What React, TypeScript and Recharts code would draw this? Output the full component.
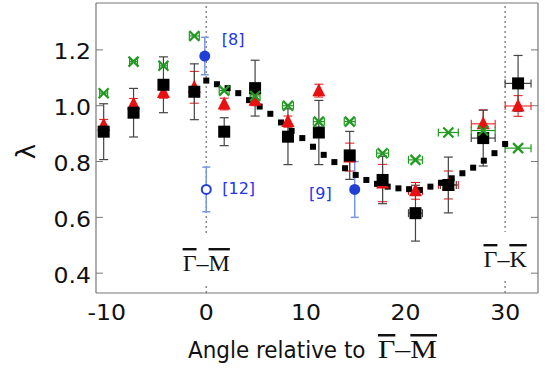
import React from 'react'
import { ScatterChart, Scatter, XAxis, YAxis, ErrorBar, ReferenceLine } from 'recharts'

// angles (deg) of the measured cuts, shared by the three symbol sets
const angles = [-10.3, -7.3, -4.3, -1.2, 1.8, 4.9, 8.2, 11.3, 14.4, 17.7, 21.0, 24.3, 27.8, 31.3]

const squareLambda = [0.907, 0.975, 1.075, 1.05, 0.907, 1.063, 0.889, 0.904, 0.822, 0.734, 0.615, 0.716, 0.884, 1.08]
const squareErr = [0.1, 0.087, 0.1, 0.1, 0.05, 0.1, 0.1, 0.115, 0.086, 0.085, 0.1, 0.1, 0.1, 0.1]
const squareAngleErr = [0, 0, 0, 0, 0, 0, 0, 0, 0, 0, 0.7, 0.8, 1.2, 1.3]

const triangleLambda = [0.931, 1.006, 1.047, 1.066, 1.006, 1.02, 0.943, 1.054, 0.816, 0.723, 0.695, 0.716, 0.935, 0.999]
const triangleErr = [0.02, 0.02, 0.02, 0.057, 0.021, 0.02, 0.02, 0.023, 0.05, 0.067, 0.03, 0.05, 0.05, 0.037]
const triangleAngleErr = [0, 0, 0, 0, 0, 0, 0, 0, 0, 0, 0.7, 1.0, 1.2, 1.3]

const crossLambda = [1.045, 1.158, 1.143, 1.25, 1.054, 1.035, 1.0, 0.943, 0.943, 0.83, 0.806, 0.904, 0.911, 0.848]
const crossAngleErr = [0.4, 0.4, 0.4, 0.5, 0.5, 0.5, 0.55, 0.55, 0.55, 0.6, 0.7, 1.0, 1.2, 1.3]

// calculated curve (small squares)
const calcAngle = [0, 1.07, 2.14, 3.21, 4.29, 5.36, 6.43, 7.5, 8.57, 9.64, 10.71, 11.79, 12.86, 13.93, 15.0,
  16.07, 17.14, 18.21, 19.29, 20.36, 21.43, 22.5, 23.57, 24.64, 25.71, 26.79, 27.86, 28.93, 30.0]
const calcLambda = [1.09, 1.077, 1.063, 1.045, 1.02, 0.997, 0.971, 0.94, 0.91, 0.884, 0.853, 0.824, 0.798, 0.776, 0.752,
  0.734, 0.72, 0.71, 0.704, 0.701, 0.698, 0.71, 0.724, 0.74, 0.758, 0.778, 0.803, 0.83, 0.863]

// literature values
const refNames = ['[8]', '[12]', '[9]']
const refAngle = [-0.15, 0, 14.9]
const refLambda = [1.178, 0.7, 0.7]
const refErr = [0.067, 0.08, 0.1]

const xTicks = [-10, 0, 10, 20, 30]
const yTicks = [0.4, 0.6, 0.8, 1.0, 1.2]

const X_DOMAIN = [-11.07, 33.3]
const Y_DOMAIN = [0.329, 1.368]

const squares = angles.map((x, i) => ({ x, y: squareLambda[i], ey: squareErr[i], ex: squareAngleErr[i] }))
const triangles = angles.map((x, i) => ({ x, y: triangleLambda[i], ey: triangleErr[i], ex: triangleAngleErr[i] }))
const crosses = angles.map((x, i) => ({ x, y: crossLambda[i], ex: crossAngleErr[i] }))
const calc = calcAngle.map((x, i) => ({ x, y: calcLambda[i] }))
const refs = refNames.map((name, i) => [{ x: refAngle[i], y: refLambda[i], ey: refErr[i], name }])

const SANS = '"DejaVu Sans", Verdana, sans-serif'
const SERIF = '"Liberation Serif", "Times New Roman", serif'
const FRAME = '#777'
const BLUE = '#1f3fd6'

const NoTick = () => <g />

const XTick = ({ x, y, payload }: any) => (
  <g transform={`translate(${x},${y}) scale(1.15,1)`}>
    <text x={0} y={27} textAnchor="middle" fontFamily={SANS} fontSize={20.5} fill="#111">
      {String(payload.value)}
    </text>
  </g>
)

const YTick = ({ x, y, payload }: any) => (
  <g transform={`translate(${x - 5},${y}) scale(1.15,1)`}>
    <text x={0} y={9.5} textAnchor="end" fontFamily={SANS} fontSize={20.5} fill="#111">
      {Number(payload.value).toFixed(1)}
    </text>
  </g>
)

const BigSquare = (p: any) => <rect x={p.cx - 6} y={p.cy - 6} width={12} height={12} fill="#000" />
const SmallSquare = (p: any) => <rect x={p.cx - 3} y={p.cy - 3} width={6} height={6} fill="#000" />
const Triangle = (p: any) => (
  <polygon points={`${p.cx},${p.cy - 7.5} ${p.cx - 6.5},${p.cy + 5.5} ${p.cx + 6.5},${p.cy + 5.5}`} fill="#e81010" />
)
const Cross = (p: any) => (
  <g stroke="#229a22" strokeWidth={2.2}>
    <line x1={p.cx - 5} y1={p.cy - 5} x2={p.cx + 5} y2={p.cy + 5} />
    <line x1={p.cx - 5} y1={p.cy + 5} x2={p.cx + 5} y2={p.cy - 5} />
  </g>
)

const refShape = (open: boolean, dx: number, dy: number, anchor: string) => (p: any) => (
  <g>
    {open
      ? <circle cx={p.cx} cy={p.cy} r={4.5} fill="#fff" stroke={BLUE} strokeWidth={2} />
      : <circle cx={p.cx} cy={p.cy} r={5.5} fill={BLUE} />}
    <text x={p.cx + dx} y={p.cy + dy} textAnchor={anchor} fontFamily={SANS} fontSize={16} fill="#2236e8">
      {p.payload.name}
    </text>
  </g>
)

const Sym = ({ a, b }: { a: string; b: string }) => (
  <>
    <tspan style={{ textDecoration: 'overline' }}>{a}</tspan>–<tspan style={{ textDecoration: 'overline' }}>{b}</tspan>
  </>
)

// direction label sitting in a gap of the dotted line
const gapLabel = (b: string, base: number, gapTop: number, gapBottom: number) => (props: any) => {
  const vb = props.viewBox || {}
  const cx = vb.x
  const top = vb.y
  return (
    <g>
      <rect x={cx - 4} y={top + gapTop} width={8} height={gapBottom - gapTop} fill="#fff" />
      <text x={cx} y={top + base} textAnchor="middle" fontFamily={SERIF} fontSize={24} fill="#111">
        <Sym a="Γ" b={b} />
      </text>
    </g>
  )
}

const XTitle = (props: any) => {
  const vb = props.viewBox
  return (
    <g>
      <text transform={`translate(${vb.x + 92},${vb.y + 65}) scale(1,1.1)`} fontFamily={SANS} fontSize={21.5}
        fill="#111">Angle relative to</text>
      <text x={vb.x + 282} y={vb.y + 65} fontFamily={SERIF} fontSize={25} fill="#111"
        textLength={59} lengthAdjust="spacingAndGlyphs">
        <Sym a="Γ" b="M" />
      </text>
    </g>
  )
}

const YTitle = (props: any) => {
  const vb = props.viewBox
  return (
    <text transform={`translate(${vb.x + 25.5},${vb.y + 148.5}) rotate(-90)`} textAnchor="middle" dy="0.36em"
      fontFamily={SANS} fontSize={26} fill="#111">λ</text>
  )
}

export default function App() {
  return (
    <div style={{ position: 'absolute', left: 0, top: 0, width: 545, height: 370, background: '#fff' }}>
      <ScatterChart width={545} height={370} margin={{ top: 3, right: 7, bottom: 0, left: 0 }}>
        <XAxis xAxisId="a" type="number" dataKey="x" domain={X_DOMAIN} allowDataOverflow ticks={xTicks}
          interval={0} height={77} tickLine={false} tickSize={0} tickMargin={0} tick={XTick}
          axisLine={{ stroke: FRAME, strokeWidth: 1.2 }} label={XTitle} />
        <XAxis xAxisId="b" type="number" orientation="bottom" mirror domain={X_DOMAIN} allowDataOverflow
          ticks={xTicks} interval={0} tick={NoTick} tickSize={7} axisLine={false} tickLine={{ stroke: FRAME }} />
        <XAxis xAxisId="t" type="number" orientation="top" mirror domain={X_DOMAIN} allowDataOverflow
          ticks={xTicks} interval={0} tick={NoTick} tickSize={7} axisLine={{ stroke: FRAME, strokeWidth: 1.2 }}
          tickLine={{ stroke: FRAME }} />
        <YAxis yAxisId="a" type="number" dataKey="y" domain={Y_DOMAIN} allowDataOverflow ticks={yTicks}
          interval={0} width={96} tickLine={false} tickSize={0} tickMargin={0} tick={YTick}
          axisLine={{ stroke: FRAME, strokeWidth: 1.2 }} label={YTitle} />
        <YAxis yAxisId="l" type="number" orientation="left" mirror domain={Y_DOMAIN} allowDataOverflow
          ticks={yTicks} interval={0} tick={NoTick} tickSize={7} axisLine={false} tickLine={{ stroke: FRAME }} />
        <YAxis yAxisId="r" type="number" orientation="right" mirror domain={Y_DOMAIN} allowDataOverflow
          ticks={yTicks} interval={0} tick={NoTick} tickSize={7} axisLine={{ stroke: FRAME, strokeWidth: 1.2 }}
          tickLine={{ stroke: FRAME }} />

        <ReferenceLine xAxisId="a" yAxisId="a" x={0} stroke="#888" strokeWidth={1.5} strokeDasharray="2 3"
          label={gapLabel('M', 268, 230, 280)} />
        <ReferenceLine xAxisId="a" yAxisId="a" x={30} stroke="#888" strokeWidth={1.5} strokeDasharray="2 3"
          label={gapLabel('K', 264, 229, 275)} />

        <Scatter xAxisId="a" yAxisId="a" data={calc} shape={SmallSquare} isAnimationActive={false} />
        <Scatter xAxisId="a" yAxisId="a" data={triangles} shape={Triangle} isAnimationActive={false}>
          <ErrorBar dataKey="ey" direction="y" width={4.5} stroke="#e81010" strokeWidth={1} isAnimationActive={false} />
          <ErrorBar dataKey="ex" direction="x" width={4} stroke="#e81010" strokeWidth={1} isAnimationActive={false} />
        </Scatter>
        <Scatter xAxisId="a" yAxisId="a" data={squares} shape={BigSquare} isAnimationActive={false}>
          <ErrorBar dataKey="ey" direction="y" width={4.5} stroke="#444" strokeWidth={1.2} isAnimationActive={false} />
          <ErrorBar dataKey="ex" direction="x" width={4} stroke="#444" strokeWidth={1.2} isAnimationActive={false} />
        </Scatter>
        <Scatter xAxisId="a" yAxisId="a" data={crosses} shape={Cross} isAnimationActive={false}>
          <ErrorBar dataKey="ex" direction="x" width={4} stroke="#229a22" strokeWidth={1.2} isAnimationActive={false} />
        </Scatter>

        <Scatter xAxisId="a" yAxisId="a" data={refs[0]} shape={refShape(false, 17, -11, 'start')} isAnimationActive={false}>
          <ErrorBar dataKey="ey" direction="y" width={4} stroke="#7a96e6" strokeWidth={1.5} isAnimationActive={false} />
        </Scatter>
        <Scatter xAxisId="a" yAxisId="a" data={refs[1]} shape={refShape(true, 16, 5, 'start')} isAnimationActive={false}>
          <ErrorBar dataKey="ey" direction="y" width={4} stroke="#7a96e6" strokeWidth={1.5} isAnimationActive={false} />
        </Scatter>
        <Scatter xAxisId="a" yAxisId="a" data={refs[2]} shape={refShape(false, -23, 10, 'end')} isAnimationActive={false}>
          <ErrorBar dataKey="ey" direction="y" width={4} stroke="#7a96e6" strokeWidth={1.5} isAnimationActive={false} />
        </Scatter>
      </ScatterChart>
    </div>
  )
}
